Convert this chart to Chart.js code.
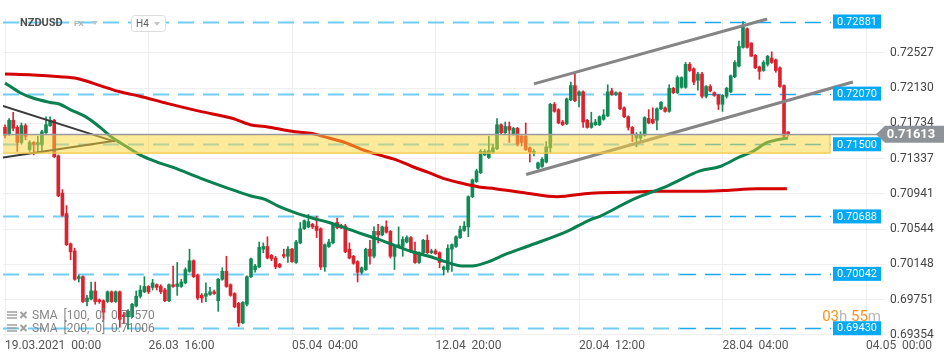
<!DOCTYPE html>
<html><head><meta charset="utf-8">
<script src="https://cdn.jsdelivr.net/npm/chart.js@4.4.0/dist/chart.umd.min.js"></script>
<style>html,body{margin:0;padding:0;background:#fff;overflow:hidden}</style>
</head><body>
<canvas id="c" width="950" height="361"></canvas>
<script>
const symbol = 'NZDUSD';
const market = 'FX';
const timeframe = 'H4';
const xTickIdx = [0, 35, 70, 105, 140, 175, 210];
const xTickLabels = ['19.03.2021  00:00', '26.03  16:00', '05.04  04:00', '12.04  20:00', '20.04  12:00', '28.04  04:00', '04.05  00:00'];
const yTicks = [0.69354, 0.69751, 0.70148, 0.70544, 0.70941, 0.71337, 0.71734, 0.72130, 0.72527];
const levels = [0.72881, 0.72070, 0.71500, 0.70688, 0.70042, 0.69430];
const zoneRange = [0.7140, 0.71613];
const lastPrice = 0.71613;
const countdown = [['03', 'o'], ['h', 'g'], [' 55', 'o'], ['m', 'g']];
const legendRows = ['SMA  [100,  0]  0.71570', 'SMA  [200,  0]  0.71006'];

const open = [
.7169,.7161,.7177,.7169,.7152,.7171,.7144,.7152,.7150,.7150,
.7163,.7171,.7177,.7137,.7095,.7072,.7038,.7030,.6999,.7001,
.6973,.6976,.6985,.6975,.6974,.6973,.6984,.6973,.6984,.6958,
.6956,.6956,.6968,.6979,.6984,.6990,.6989,.6992,.6990,.6986,
.6974,.6992,.6990,.6990,.6994,.7007,.7019,.7003,.6980,.6979,
.6981,.6984,.6974,.6998,.7007,.6992,.6982,.6971,.6949,.6970,
.7001,.7009,.7012,.7032,.7035,.7025,.7022,.7015,.7026,.7024,
.7032,.7017,.7039,.7055,.7057,.7060,.7058,.7055,.7012,.7035,
.7039,.7062,.7058,.7058,.7032,.7024,.7018,.7006,.7009,.7032,
.7024,.7052,.7048,.7057,.7052,.7024,.7035,.7035,.7040,.7045,
.7029,.7017,.7028,.7042,.7028,.7030,.7028,.7009,.7009,.7032,
.7035,.7045,.7053,.7057,.7091,.7108,.7118,.7138,.7135,.7141,
.7145,.7172,.7163,.7170,.7161,.7168,.7159,.7159,.7146,.7140,
.7123,.7125,.7130,.7146,.7195,.7189,.7175,.7173,.7200,.7216,
.7205,.7209,.7177,.7169,.7172,.7172,.7178,.7182,.7210,.7206,
.7208,.7191,.7181,.7169,.7157,.7157,.7160,.7179,.7178,.7177,
.7190,.7191,.7187,.7213,.7208,.7214,.7214,.7240,.7235,.7222,
.7229,.7204,.7215,.7208,.7205,.7195,.7204,.7209,.7226,.7238,
.7259,.7280,.7264,.7250,.7237,.7233,.7240,.7247,.7245,.7236,
.7216,.7164];
const high = [
.7172,.7179,.7186,.7171,.7174,.7173,.7154,.7153,.7159,.7166,
.7181,.7181,.7178,.7138,.7099,.7081,.7039,.7033,.7003,.7002,
.6980,.6995,.6995,.6976,.6975,.6985,.6985,.6985,.6985,.6961,
.6964,.6971,.6985,.6991,.7001,.6991,.6998,.6993,.6992,.6988,
.6993,.7013,.7017,.6998,.7011,.7032,.7020,.7004,.6982,.6994,
.6989,.6986,.6999,.7011,.7024,.6993,.6983,.6972,.6973,.7002,
.7022,.7015,.7040,.7039,.7046,.7026,.7024,.7016,.7032,.7035,
.7033,.7042,.7062,.7065,.7071,.7061,.7069,.7056,.7038,.7043,
.7061,.7067,.7060,.7060,.7039,.7025,.7019,.7012,.7033,.7042,
.7057,.7060,.7058,.7064,.7053,.7036,.7057,.7046,.7047,.7046,
.7040,.7029,.7043,.7048,.7032,.7032,.7029,.7013,.7037,.7038,
.7047,.7058,.7063,.7092,.7111,.7122,.7144,.7144,.7159,.7150,
.7179,.7173,.7175,.7175,.7169,.7169,.7161,.7174,.7147,.7144,
.7130,.7135,.7153,.7196,.7197,.7190,.7177,.7202,.7220,.7231,
.7210,.7210,.7178,.7186,.7178,.7182,.7189,.7217,.7213,.7209,
.7209,.7192,.7182,.7170,.7163,.7164,.7181,.7189,.7191,.7191,
.7198,.7192,.7217,.7214,.7227,.7226,.7242,.7242,.7236,.7231,
.7231,.7216,.7217,.7209,.7206,.7206,.7214,.7228,.7244,.7266,
.7288,.7281,.7264,.7251,.7238,.7244,.7250,.7254,.7246,.7237,
.7217,.7164];
const low = [
.7157,.7160,.7165,.7142,.7150,.7155,.7142,.7138,.7141,.7141,
.7162,.7170,.7135,.7091,.7069,.7036,.7020,.6997,.6995,.6972,
.6968,.6975,.6970,.6971,.6953,.6972,.6972,.6972,.6944,.6949,
.6942,.6955,.6967,.6977,.6983,.6982,.6986,.6986,.6982,.6973,
.6973,.6989,.6980,.6989,.6993,.7006,.7000,.6975,.6972,.6973,
.6980,.6981,.6962,.6997,.6989,.6979,.6966,.6945,.6948,.6968,
.7000,.7006,.7011,.7028,.7021,.7019,.7010,.7011,.7022,.7017,
.7017,.7016,.7038,.7054,.7056,.7055,.7045,.7009,.7007,.7034,
.7038,.7055,.7055,.7028,.7021,.7015,.6995,.7004,.7008,.7015,
.7022,.7039,.7047,.7050,.7022,.7009,.7034,.7024,.7039,.7028,
.7016,.7016,.7027,.7027,.7027,.7026,.7011,.7003,.7006,.7007,
.7034,.7044,.7052,.7046,.7090,.7107,.7117,.7137,.7134,.7140,
.7144,.7162,.7162,.7152,.7160,.7148,.7148,.7143,.7130,.7137,
.7122,.7124,.7129,.7141,.7186,.7173,.7171,.7172,.7199,.7198,
.7192,.7169,.7168,.7168,.7171,.7171,.7177,.7181,.7205,.7205,
.7189,.7180,.7166,.7153,.7147,.7153,.7159,.7173,.7173,.7166,
.7189,.7186,.7186,.7207,.7207,.7213,.7213,.7232,.7217,.7211,
.7202,.7202,.7209,.7204,.7189,.7187,.7202,.7208,.7225,.7237,
.7258,.7258,.7249,.7235,.7223,.7232,.7238,.7241,.7231,.7214,
.7157,.7159];
const close = [
.7160,.7177,.7168,.7152,.7171,.7159,.7152,.7150,.7152,.7164,
.7172,.7177,.7136,.7092,.7070,.7037,.7029,.6998,.7001,.6973,
.6977,.6985,.6973,.6973,.6961,.6984,.6973,.6984,.6953,.6956,
.6962,.6970,.6979,.6986,.6990,.6984,.6994,.6989,.6984,.6974,
.6992,.6990,.6993,.6995,.7009,.7019,.7001,.6977,.6977,.6982,
.6984,.6982,.6998,.7007,.6990,.6980,.6967,.6949,.6972,.7001,
.7021,.7013,.7034,.7035,.7022,.7021,.7012,.7012,.7024,.7032,
.7018,.7040,.7055,.7064,.7063,.7057,.7053,.7012,.7037,.7040,
.7060,.7056,.7056,.7029,.7022,.7016,.7006,.7011,.7032,.7024,
.7052,.7048,.7057,.7051,.7024,.7035,.7037,.7043,.7045,.7029,
.7017,.7028,.7042,.7028,.7030,.7027,.7017,.7012,.7033,.7037,
.7046,.7054,.7058,.7091,.7110,.7120,.7142,.7142,.7143,.7146,
.7172,.7163,.7170,.7166,.7168,.7150,.7152,.7144,.7141,.7142,
.7129,.7133,.7147,.7195,.7187,.7174,.7172,.7201,.7216,.7199,
.7209,.7175,.7169,.7174,.7175,.7181,.7183,.7209,.7206,.7208,
.7190,.7181,.7169,.7161,.7160,.7160,.7180,.7174,.7174,.7190,
.7197,.7187,.7213,.7208,.7225,.7225,.7240,.7233,.7220,.7229,
.7204,.7215,.7210,.7205,.7195,.7205,.7213,.7227,.7242,.7260,
.7282,.7259,.7249,.7236,.7232,.7242,.7249,.7242,.7233,.7215,
.7159,.71613];

const sma100Idx = [0,3.7,6.8,11,13.4,15.9,20,23.2,26.3,29.8,32.9,37.1,41,47.6,54.1,59.8,63.4,66.8,70.7,74.9,79,82.9,87.1,91.2,95.1,99.3,103.4,107.3,111.5,113.9,118,122,127.3,137.1,142.7,145.1,153.2,161.5,169.5,174.4,179.3,182.4,185.9,188.3,191];
const sma100 = [.7219,.7208,.7202,.7197,.7195,.7189,.7180,.7169,.7157,.7147,.7138,.7130,.7124,.7112,.7101,.7092,.7088,.7080,.7073,.7067,.7062,.7056,.7049,.7043,.7036,.7029,.7024,.7018,.7013,.7013,.7018,.7026,.7035,.7052,.7065,.7069,.7088,.7103,.7120,.7125,.7136,.7142,.7152,.7155,.7157];
const sma200Idx = [0,6.8,13.4,17.6,23.2,28,32.9,39.5,47.6,55.6,59.8,63.4,70.7,74.9,79,82.9,87.1,91.2,95.1,99.3,103.4,107.3,111.5,115.6,119.5,127.3,134.6,142.9,151,159,167.3,175.4,183.4,190.7];
const sma200 = [.7229,.7228,.7226,.7224,.7216,.7209,.7204,.7196,.7187,.7179,.7172,.7170,.7164,.7162,.7157,.7152,.7144,.7138,.7133,.7125,.7118,.7111,.7106,.7102,.7100,.7095,.7091,.7095,.7096,.7097,.7097,.7098,.7100,.7100];
const trendDownIdx = [-0.5, 26.8], trendDownVal = [.7193, .7153];
const trendUpIdx = [-0.5, 26.8], trendUpVal = [.7135, .7154];
const chanUpperIdx = [129, 185.9], chanUpperVal = [.7218, .7291];
const chanLowerIdx = [127.1, 206.8], chanLowerVal = [.7116, .7220];

const GREEN = '#128a55', RED = '#db2330';
const pts = (ix, v) => ix.map((x, k) => ({x: x, y: v[k]}));
const candleColors = open.map((o, i) => close[i] >= o ? GREEN : RED);
const bodyData = open.map((o, i) => ({x: i, y: [o, close[i]]}));
const wickData = open.map((o, i) => ({x: i, y: [low[i], high[i]]}));

const F = 'Roboto, "Noto Sans", sans-serif';

const drawPlugin = {
  id: 'fxdecor',
  beforeDatasetsDraw(chart) {
    const {ctx, chartArea: a, scales: {x, y}} = chart;
    ctx.save();
    ctx.beginPath(); ctx.rect(a.left, a.top, a.right - a.left, a.bottom - a.top); ctx.clip();
    const split = x.getPixelForValue(164.6);
    const endX = 831;
    levels.forEach(v => {
      const py = Math.round(y.getPixelForValue(v)) + 0.5;
      ctx.setLineDash([16, 9]);
      ctx.lineDashOffset = 0;
      ctx.strokeStyle = '#72cdf4'; ctx.lineWidth = 2;
      ctx.beginPath(); ctx.moveTo(a.left, py); ctx.lineTo(split, py); ctx.stroke();
      ctx.strokeStyle = '#19a9ec'; ctx.lineWidth = 1.3;
      ctx.beginPath(); ctx.moveTo(split, py); ctx.lineTo(endX, py); ctx.stroke();
    });
    ctx.restore();
  },
  afterDatasetsDraw(chart) {
    const {ctx, chartArea: a, scales: {x, y}} = chart;
    ctx.save();
    const zt = y.getPixelForValue(zoneRange[1]);
    const zb = y.getPixelForValue(zoneRange[0]);
    const zr = 830;
    ctx.fillStyle = 'rgba(252, 214, 55, 0.5)';
    ctx.fillRect(a.left, zt, zr - a.left, zb - zt);
    ctx.strokeStyle = '#f2c744'; ctx.lineWidth = 1.2;
    ctx.beginPath(); ctx.moveTo(a.left, zb); ctx.lineTo(zr, zb); ctx.lineTo(zr, zt); ctx.stroke();
    const lp = Math.round(y.getPixelForValue(lastPrice)) + 0.5;
    ctx.strokeStyle = '#9a9a9a'; ctx.lineWidth = 1.3;
    ctx.beginPath(); ctx.moveTo(a.left, lp); ctx.lineTo(878, lp); ctx.stroke();
    ctx.restore();
  },
  afterDraw(chart) {
    const {ctx, scales: {y}} = chart;
    ctx.save();
    // level labels
    ctx.textAlign = 'center'; ctx.textBaseline = 'middle';
    ctx.font = '11px ' + F;
    levels.forEach(v => {
      const py = y.getPixelForValue(v);
      ctx.fillStyle = '#03a9f4';
      ctx.fillRect(833, py - 7, 48, 14);
      ctx.fillStyle = '#ffffff';
      ctx.fillText(v.toFixed(5), 857, py + 0.5);
    });
    // last price label
    const lp = y.getPixelForValue(lastPrice);
    ctx.fillStyle = '#8d9398';
    ctx.beginPath();
    ctx.moveTo(876, lp); ctx.lineTo(885, lp - 8.5); ctx.lineTo(944, lp - 8.5);
    ctx.lineTo(944, lp + 8.5); ctx.lineTo(885, lp + 8.5); ctx.closePath(); ctx.fill();
    ctx.fillStyle = '#ffffff'; ctx.font = 'bold 13px ' + F;
    ctx.fillText(lastPrice.toFixed(5), 911, lp + 0.5);
    // countdown
    ctx.font = '15px ' + F; ctx.textAlign = 'left';
    let total = 0; countdown.forEach(p => total += ctx.measureText(p[0]).width);
    let cx = 881 - total;
    countdown.forEach(p => {
      ctx.fillStyle = p[1] === 'o' ? '#f7931e' : '#b8b8b8';
      ctx.fillText(p[0], cx, 317); cx += ctx.measureText(p[0]).width;
    });
    // header
    ctx.fillStyle = '#505050'; ctx.font = 'bold 11px ' + F;
    ctx.fillText(symbol, 20, 23);
    ctx.fillStyle = '#b4b4b4'; ctx.font = 'bold 8px ' + F;
    ctx.fillText(market, 74, 24);
    ctx.fillStyle = '#c4c4c4';
    ctx.beginPath(); ctx.moveTo(92, 21); ctx.lineTo(98, 21); ctx.lineTo(95, 25); ctx.closePath(); ctx.fill();
    ctx.fillStyle = '#ffffff'; ctx.strokeStyle = '#dcdcdc'; ctx.lineWidth = 1;
    ctx.beginPath(); ctx.roundRect(131.5, 15.5, 34, 16, 3); ctx.fill(); ctx.stroke();
    ctx.fillStyle = '#606060'; ctx.font = '10px ' + F;
    ctx.fillText(timeframe, 136, 24);
    ctx.fillStyle = '#c4c4c4';
    ctx.beginPath(); ctx.moveTo(154, 22); ctx.lineTo(160, 22); ctx.lineTo(157, 26); ctx.closePath(); ctx.fill();
    // legend
    ctx.font = '12px ' + F;
    legendRows.forEach((t, k) => {
      const ly = 315 + k * 13;
      ctx.strokeStyle = '#a0a0a0'; ctx.lineWidth = 1.5;
      for (let j = -1; j <= 1; j++) { ctx.beginPath(); ctx.moveTo(7, ly + j * 3); ctx.lineTo(17, ly + j * 3); ctx.stroke(); }
      ctx.lineWidth = 2;
      ctx.beginPath(); ctx.moveTo(20.5, ly - 3); ctx.lineTo(26.5, ly + 3); ctx.moveTo(26.5, ly - 3); ctx.lineTo(20.5, ly + 3); ctx.stroke();
      ctx.fillStyle = 'rgba(120,120,120,0.9)';
      ctx.fillText(t, 32, ly + 0.5);
    });
    ctx.restore();
  }
};

new Chart(document.getElementById('c'), {
  type: 'bar',
  data: {
    datasets: [
      {type: 'line', data: pts(sma100Idx, sma100), borderColor: '#08804f', borderWidth: 3, pointRadius: 0, cubicInterpolationMode: 'monotone', order: 0},
      {type: 'line', data: pts(sma200Idx, sma200), borderColor: '#d40000', borderWidth: 3, pointRadius: 0, cubicInterpolationMode: 'monotone', order: 0},
      {type: 'line', data: pts(trendDownIdx, trendDownVal), borderColor: '#3a3a3a', borderWidth: 2, pointRadius: 0, order: 0},
      {type: 'line', data: pts(trendUpIdx, trendUpVal), borderColor: '#3a3a3a', borderWidth: 2, pointRadius: 0, order: 0},
      {type: 'line', data: pts(chanUpperIdx, chanUpperVal), borderColor: '#858585', borderWidth: 3, pointRadius: 0, order: 0},
      {type: 'line', data: pts(chanLowerIdx, chanLowerVal), borderColor: '#858585', borderWidth: 3, pointRadius: 0, order: 0},
      {type: 'bar', data: bodyData, backgroundColor: candleColors, barThickness: 3, minBarLength: 1, grouped: false, borderWidth: 0, order: 1},
      {type: 'bar', data: wickData, backgroundColor: candleColors, barThickness: 1, grouped: false, borderWidth: 0, order: 2}
    ]
  },
  options: {
    responsive: false, animation: false,
    layout: {padding: {left: 3, top: 18, right: 0, bottom: 0}},
    plugins: {legend: {display: false}, tooltip: {enabled: false}},
    scales: {
      x: {
        type: 'linear', min: -0.49, max: 214.63, offset: false,
        grid: {color: '#efefef', drawTicks: false, offset: false},
        border: {display: false},
        afterBuildTicks: s => { s.ticks = xTickIdx.map(v => ({value: v})); },
        afterFit: s => { s.height = 23; },
        ticks: {
          autoSkip: false, maxRotation: 0, align: 'start', padding: 1,
          color: '#555555', font: {family: F, size: 12},
          callback: v => xTickLabels[xTickIdx.indexOf(v)]
        }
      },
      y: {
        type: 'linear', position: 'right', min: 0.693202, max: 0.729206,
        grid: {color: '#efefef', drawTicks: false},
        border: {display: false},
        afterBuildTicks: s => { s.ticks = yTicks.map(v => ({value: v})); },
        afterFit: s => { s.width = 65; },
        ticks: {padding: 5, color: '#444444', font: {family: F, size: 12}, callback: v => v.toFixed(5)}
      }
    }
  },
  plugins: [drawPlugin]
});
</script>
</body></html>
